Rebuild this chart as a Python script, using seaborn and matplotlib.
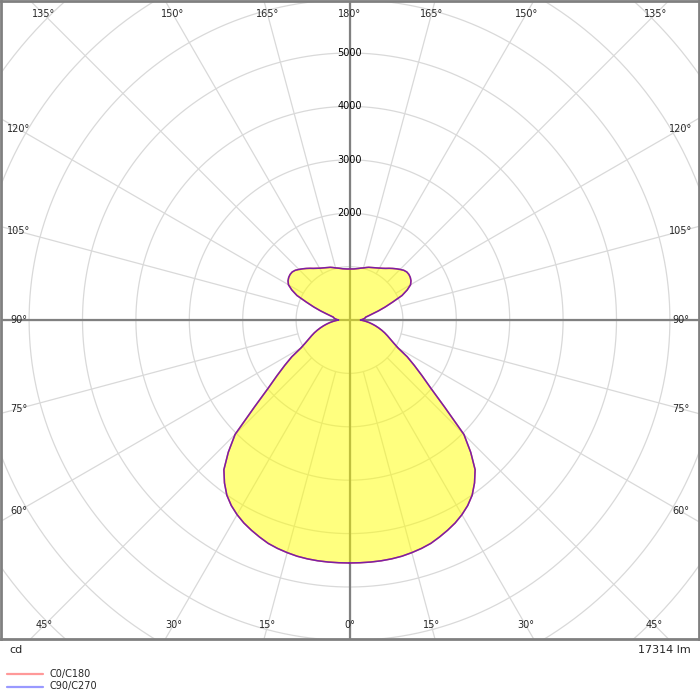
import numpy as np
import pandas as pd
import matplotlib
matplotlib.use('Agg')
import matplotlib.pyplot as plt
from matplotlib.lines import Line2D
import seaborn as sns

# Luminous intensity (cd), gamma = 0 points straight down
gamma_deg = [0, 2.5, 5, 7.5, 10, 12.5, 15, 17.5, 20, 22.5, 25, 27.5, 30, 32.5, 35, 37.5,
             40, 42.5, 45, 47.5, 50, 52.5, 55, 57.5, 60, 62.5, 65, 67.5, 70, 72.5, 75,
             77.5, 80, 82.5, 85, 87.5, 90, 92.5, 95, 97.5, 100, 102.5, 105, 107.5, 110,
             112.5, 115, 117.5, 120, 122.5, 125, 127.5, 130, 132.5, 135, 137.5, 140,
             142.5, 145, 147.5, 150, 152.5, 155, 157.5, 160, 162.5, 165, 167.5, 170,
             172.5, 175, 177.5, 180]
cd_c0_c180 = [4550, 4550, 4550, 4548, 4542, 4531, 4510, 4485, 4452, 4400, 4345, 4285,
              4210, 4120, 4005, 3846, 3660, 3360, 3030, 2420, 1990, 1710, 1480, 1280,
              1054, 931, 841, 768, 700, 630, 562, 496, 432, 372, 312, 256, 205,
              240, 272, 295, 308, 368, 448, 568, 711, 872, 1085, 1218, 1320, 1365,
              1390, 1402, 1400, 1378, 1340, 1300, 1260, 1220, 1180, 1148, 1120, 1098,
              1080, 1064, 1050, 1030, 1010, 995, 980, 968, 960, 956, 955]
cd_c90_c270 = list(cd_c0_c180)

ring_values = [1000, 2000, 3000, 4000, 5000, 6000, 7000, 8000, 9000]
ring_labels = [2000, 3000, 4000, 5000]
spoke_deg = list(range(0, 360, 15))
bottom_ticks = [0, 15, 30, 45]
top_ticks = [135, 150, 165, 180]
side_ticks = [60, 75, 90, 105, 120]
flux_text = '17314 lm'
unit_text = 'cd'
legend_names = ['C0/C180', 'C90/C270']

PX_PER_CD = 53.4 / 1000.0   # pixel scale of the drawing
GRID = '#d9d9d9'
AXIS = '#808080'


def loop_xy(gamma, cd):
    """Closed outline: one half-plane on the left, the opposite one on the right."""
    g = np.radians(np.asarray(gamma, dtype=float))
    r = np.asarray(cd, dtype=float)
    x = np.concatenate([-r * np.sin(g), (r * np.sin(g))[::-1]])
    y = np.concatenate([-r * np.cos(g), (-r * np.cos(g))[::-1]])
    return x, y


sns.set_style('white')
plt.rcParams['font.family'] = ['DejaVu Sans']

fig = plt.figure(figsize=(7, 7), dpi=100)
ax = fig.add_axes([0.5 / 700, 61 / 700, 698 / 700, 638 / 700])

half_w = 349 / PX_PER_CD
half_h = 319 / PX_PER_CD
ax.set_xticks([])
ax.set_yticks([])

# ── Grid: rings and spokes ─────────────────────────────────
t = np.linspace(0, 2 * np.pi, 720)
for rv in ring_values:
    ax.plot(rv * np.cos(t), rv * np.sin(t), color=GRID, lw=0.9, zorder=1)
r_in, r_out = ring_values[0], 12000
for a in spoke_deg:
    ar = np.radians(a)
    ax.plot([r_in * np.sin(ar), r_out * np.sin(ar)],
            [-r_in * np.cos(ar), -r_out * np.cos(ar)], color=GRID, lw=0.9, zorder=1)

ax.axhline(0, color=AXIS, lw=1.6, zorder=2)
ax.axvline(0, color=AXIS, lw=1.6, zorder=2)

# ── Intensity curves ───────────────────────────────────────
x0, y0 = loop_xy(gamma_deg, cd_c0_c180)
x1, y1 = loop_xy(gamma_deg, cd_c90_c270)
ax.fill(x0, y0, color='#ffff00', alpha=0.5, lw=0, zorder=3)
df0 = pd.DataFrame({'x': x0, 'y': y0})
df1 = pd.DataFrame({'x': x1, 'y': y1})
sns.lineplot(data=df0, x='x', y='y', sort=False, estimator=None, color='#ff2020',
             lw=1.1, ax=ax, zorder=4)
sns.lineplot(data=df1, x='x', y='y', sort=False, estimator=None, color='#2020ff',
             lw=1.1, alpha=0.6, ax=ax, zorder=5)
ax.set_xlabel('')
ax.set_ylabel('')
ax.set_xlim(-half_w, half_w)
ax.set_ylim(-half_h, half_h)
ax.set_aspect('equal', adjustable='box')

# ── Labels ─────────────────────────────────────────────────
for v in ring_labels:
    ax.text(0, v, str(v), ha='center', va='center', fontsize=7, color='black', zorder=6)

yb = -305 / PX_PER_CD
for g in bottom_ticks:
    dx = -yb * np.tan(np.radians(g))
    for s in ([1] if g == 0 else [-1, 1]):
        ax.text(s * dx, yb, f'{g}°', ha='center', va='center', fontsize=7, zorder=6)

yt = 306 / PX_PER_CD
for g in top_ticks:
    dx = yt * np.tan(np.radians(180 - g))
    for s in ([1] if g == 180 else [-1, 1]):
        ax.text(s * dx, yt, f'{g}°', ha='center', va='center', fontsize=7, zorder=6)

xs = 331 / PX_PER_CD
for g in side_ticks:
    dy = -xs / np.tan(np.radians(g)) if g != 90 else 0.0
    for s in [-1, 1]:
        ax.text(s * xs, dy, f'{g}°', ha='center', va='center', fontsize=7, zorder=6)

for sp in ax.spines.values():
    sp.set_visible(True)
    sp.set_color(AXIS)
    sp.set_linewidth(2)

# ── Footer: units, flux and legend ─────────────────────────
fig.text(9 / 700, 1 - 650 / 700, unit_text, ha='left', va='center', fontsize=8)
fig.text(691 / 700, 1 - 650 / 700, flux_text, ha='right', va='center', fontsize=8)

for name, col, ypx in zip(legend_names, ['#ff9999', '#9999ff'], [674, 686.5]):
    yf = 1 - ypx / 700
    fig.add_artist(Line2D([7 / 700, 43 / 700], [yf, yf], color=col, lw=1.6))
    fig.text(50 / 700, yf, name, ha='left', va='center', fontsize=7)

fig.savefig('out.png', dpi=100)
plt.close(fig)
